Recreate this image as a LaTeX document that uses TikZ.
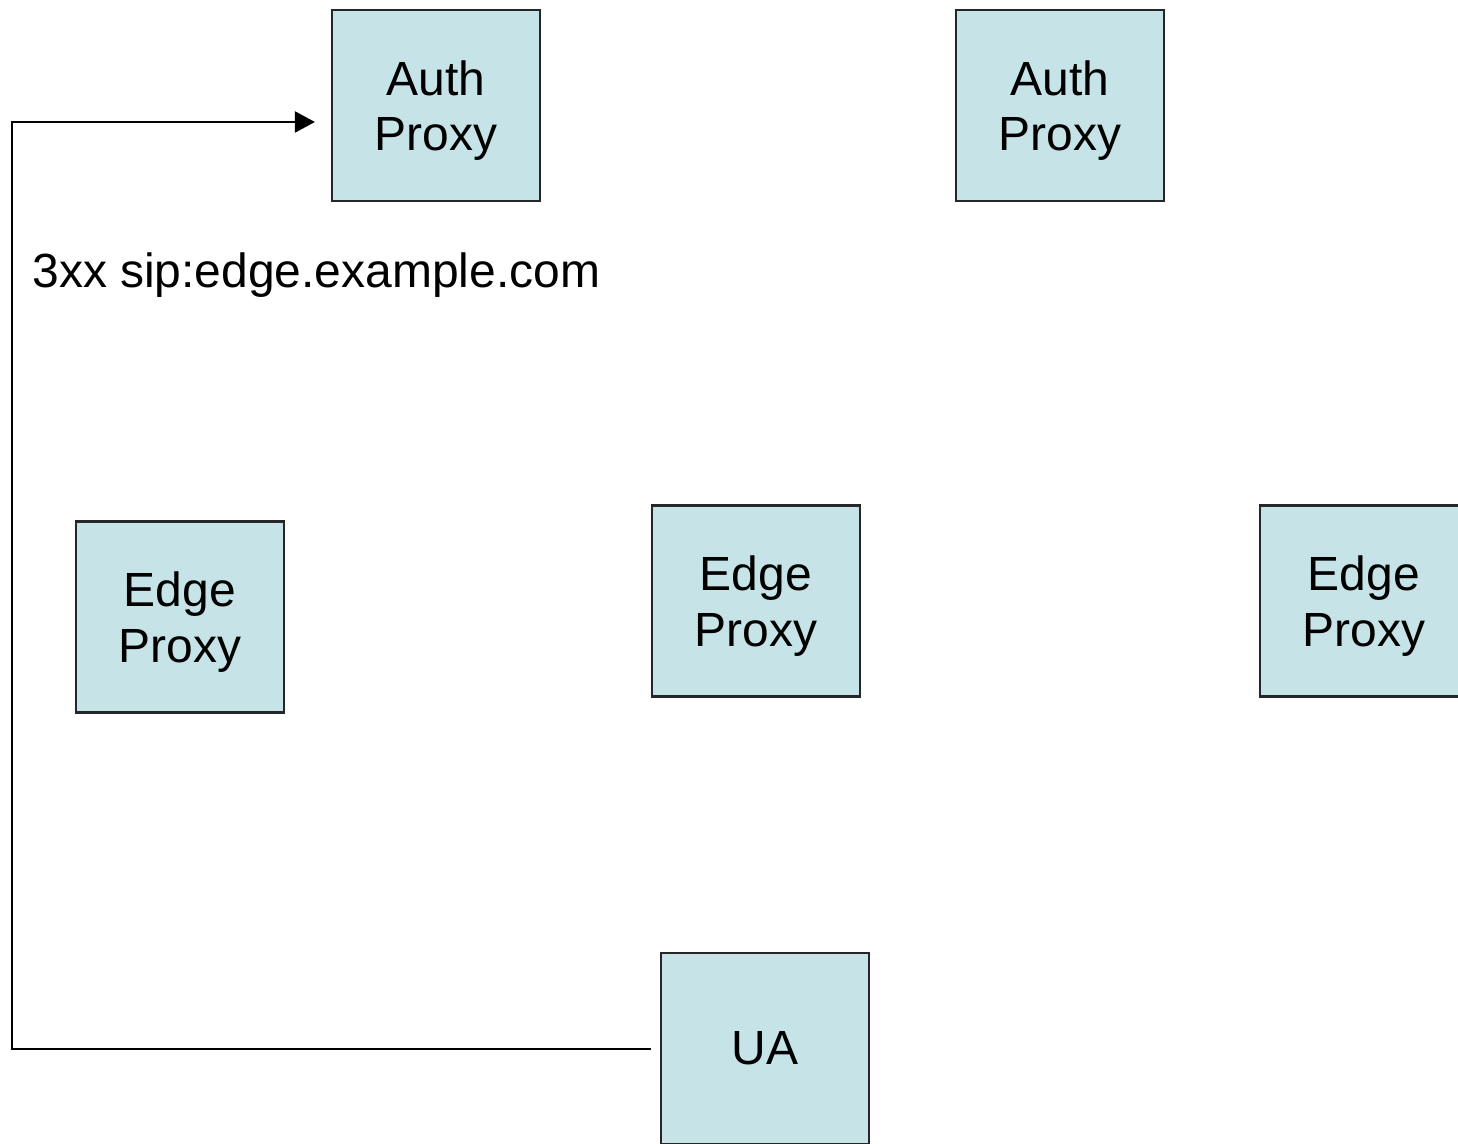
\documentclass[tikz,border=0pt]{standalone}
\usepackage{fontspec}
\setmainfont{Liberation Sans}
\usetikzlibrary{arrows.meta}
\definecolor{boxblue}{RGB}{198,228,232}
\begin{document}
\begin{tikzpicture}[proxy/.style={draw=black!85,line width=1.2pt,fill=boxblue,minimum width=4.16cm,minimum height=3.82cm,align=center,font=\fontsize{27.3}{31.5}\selectfont,inner sep=0pt}]
   \useasboundingbox (0,0) rectangle (29.16,22.86);
   \clip (0,0) rectangle (29.16,22.86);
   \node[proxy] (auth1) at (8.72,20.75) {\rule{0pt}{0.9cm}Auth\\Proxy};
      \node[proxy] (auth2) at (21.2,20.75) {\rule{0pt}{0.9cm}Auth\\Proxy};
  \node[proxy] (edge1) at (3.6,10.52) {\rule{0pt}{0.9cm}Edge\\Proxy};
   \node[proxy] (edge2) at (15.12,10.84) {\rule{0pt}{0.9cm}Edge\\Proxy};
   \node[proxy] (edge3) at (27.28,10.84) {\rule{0pt}{0.9cm}Edge\\Proxy};
   \node[proxy] (ua) at (15.3,1.89) {UA};
   \coordinate (c1) at (0.24,1.88);
   \coordinate (c2) at (0.24,20.42);
\draw[-{Triangle[length=0.4cm,width=0.42cm]},line width=1.2pt,shorten <=0.18cm,shorten >=0.32cm]  (ua.west |- c1)--(c1)--(c2)--(auth1.west |- c2);
   \node[anchor=base west,inner sep=0pt,font=\fontsize{27.3}{31.5}\selectfont] (redir) at (0.64,17.1) {3xx sip:edge.example.com};
\end{tikzpicture}
\end{document}
